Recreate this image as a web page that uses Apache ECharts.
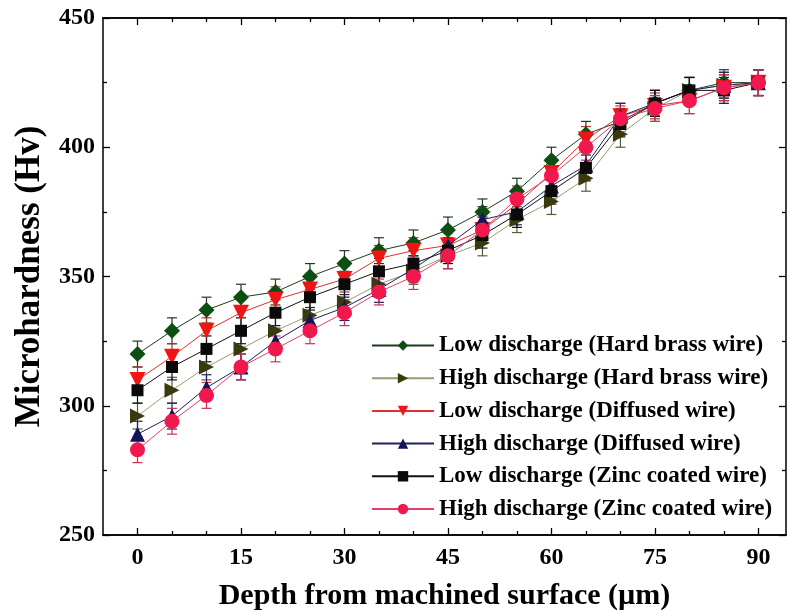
<!DOCTYPE html>
<html>
<head>
<meta charset="utf-8">
<script src="https://cdn.jsdelivr.net/npm/echarts@6/dist/echarts.min.js"></script>
<style>
  html, body { margin: 0; padding: 0; background: #fff; }
  #chart { width: 787px; height: 612px; }
</style>
</head>
<body>
<div id="chart"></div>
<script>
// Depth below the machined surface (µm)
const depths = [0, 5, 10, 15, 20, 25, 30, 35, 40, 45, 50, 55, 60, 65, 70, 75, 80, 85, 90];
const majorDepthTicks = [0, 15, 30, 45, 60, 75, 90];
const minorDepthTicks = [5, 10, 20, 25, 35, 40, 50, 55, 65, 70, 80, 85];

// Microhardness (Hv) per condition
const lowHardBrass  = [320, 329, 337, 342, 344, 350, 355, 360, 363, 368, 375, 383, 395, 405, 410, 417, 422, 425, 425];
const highHardBrass = [296, 306, 315, 322, 329, 335, 340, 347, 352, 358, 363, 372, 379, 388, 405, 415, 422, 424, 425];
const lowDiffused   = [310, 319, 329, 336, 341, 345, 349, 357, 360, 362, 368, 378, 390, 403, 412, 416, 418, 423, 425];
const highDiffused  = [289, 296, 307, 315, 325, 333, 338, 345, 353, 362, 372, 375, 385, 393, 412, 417, 422, 424, 425];
const lowZinc       = [306, 315, 322, 329, 336, 342, 347, 352, 355, 360, 366, 374, 383, 392, 409, 417, 422, 422, 425];
const highZinc      = [283, 294, 304, 315, 322, 329, 336, 344, 350, 358, 368, 380, 389, 400, 411, 415, 418, 423, 425];

// Standard deviation of each measurement (Hv)
const errLowHardBrass  = [5, 5, 5, 5, 5, 5, 5, 5, 5, 5, 5, 5, 5, 5, 5, 5, 5, 5, 5];
const errHighHardBrass = [5, 5, 5, 5, 5, 5, 5, 5, 5, 5, 5, 5, 5, 5, 5, 5, 5, 5, 5];
const errLowDiffused   = [5, 5, 5, 5, 5, 5, 5, 5, 5, 5, 5, 5, 5, 5, 5, 5, 5, 5, 5];
const errHighDiffused  = [5, 5, 5, 5, 5, 5, 5, 5, 5, 5, 5, 5, 5, 5, 5, 5, 5, 5, 5];
const errLowZinc       = [5, 5, 5, 5, 5, 5, 5, 5, 5, 5, 5, 5, 5, 5, 5, 5, 5, 5, 5];
const errHighZinc      = [5, 5, 5, 5, 5, 5, 5, 5, 5, 5, 5, 5, 5, 5, 5, 5, 5, 5, 5];

const seriesNames = [
  'Low discharge (Hard brass wire)',
  'High discharge (Hard brass wire)',
  'Low discharge (Diffused wire)',
  'High discharge (Diffused wire)',
  'Low discharge (Zinc coated wire)',
  'High discharge (Zinc coated wire)'
];

const FONT = "'Liberation Serif', 'Times New Roman', serif";

const styles = [
  { values: lowHardBrass,  errors: errLowHardBrass,  marker: '#0d4f12', line: '#1f3a1f', err: '#1f3a1f', symbol: 'diamond', size: 16 },
  { values: highHardBrass, errors: errHighHardBrass, marker: '#3a3a0e', line: '#9a9a78', err: '#5a5a3a', symbol: 'path://M0,0 L10,5 L0,10 Z', size: 15 },
  { values: lowDiffused,   errors: errLowDiffused,   marker: '#f01414', line: '#e03030', err: '#b03030', symbol: 'path://M0,0 L10,0 L5,9 Z', size: 16 },
  { values: highDiffused,  errors: errHighDiffused,  marker: '#14145a', line: '#20205a', err: '#20205a', symbol: 'triangle', size: 15 },
  { values: lowZinc,       errors: errLowZinc,       marker: '#0a0a0a', line: '#111111', err: '#111111', symbol: 'rect', size: 12 },
  { values: highZinc,      errors: errHighZinc,      marker: '#f0184c', line: '#e0406a', err: '#c8305a', symbol: 'circle', size: 15 }
];

const chart = echarts.init(document.getElementById('chart'), null, { renderer: 'canvas' });

function errorBars(name, s) {
  return {
    type: 'custom',
    name: name + ' error',
    z: 1,
    silent: true,
    data: depths.map((d, i) => [d, s.values[i] - s.errors[i], s.values[i] + s.errors[i]]),
    encode: { x: 0, y: [1, 2] },
    renderItem: function (params, api) {
      const x = api.value(0);
      const lo = api.coord([x, api.value(1)]);
      const hi = api.coord([x, api.value(2)]);
      const w = 5;
      const st = { stroke: s.err, lineWidth: 1.2 };
      return {
        type: 'group',
        children: [
          { type: 'line', shape: { x1: hi[0], y1: hi[1], x2: lo[0], y2: lo[1] }, style: st },
          { type: 'line', shape: { x1: hi[0] - w, y1: hi[1], x2: hi[0] + w, y2: hi[1] }, style: st },
          { type: 'line', shape: { x1: lo[0] - w, y1: lo[1], x2: lo[0] + w, y2: lo[1] }, style: st }
        ]
      };
    }
  };
}

const series = [];
seriesNames.forEach((name, k) => {
  series.push(errorBars(name, styles[k]));
});
seriesNames.forEach((name, k) => {
  const s = styles[k];
  series.push({
    type: 'line',
    name: name,
    z: 2 + k,
    data: depths.map((d, i) => [d, s.values[i]]),
    symbol: s.symbol,
    symbolSize: s.size,
    showAllSymbol: true,
    lineStyle: { color: s.line, width: 1 },
    itemStyle: { color: s.marker, borderWidth: 0 },
    emphasis: { disabled: true },
    animation: false
  });
});

const axisLine = { show: true, onZero: false, lineStyle: { color: '#000', width: 1.5 } };
const tickStyle = { color: '#000', width: 1.3 };
const xBase = { type: 'value', min: -5, max: 94, gridIndex: 0, splitLine: { show: false }, axisLine: axisLine };

chart.setOption({
  animation: false,
  backgroundColor: '#fff',
  grid: { left: 103, right: 1, top: 18, bottom: 77, containLabel: false, outerBoundsMode: 'none' },
  legend: {
    data: seriesNames,
    orient: 'vertical',
    left: 366,
    top: 329,
    itemWidth: 62,
    itemHeight: 13,
    itemGap: 9.7,
    textStyle: { fontFamily: FONT, fontWeight: 'bold', fontSize: 23, lineHeight: 23, color: '#000' },
    selectedMode: false
  },
  xAxis: [
    Object.assign({}, xBase, {
      position: 'bottom',
      name: 'Depth from machined surface (µm)',
      nameLocation: 'middle',
      nameGap: 46,
      nameTextStyle: { fontFamily: FONT, fontWeight: 'bold', fontSize: 30, color: '#000' },
      axisTick: { show: true, inside: true, length: 7, lineStyle: tickStyle, customValues: majorDepthTicks },
      axisLabel: { show: true, margin: 11, fontFamily: FONT, fontWeight: 'bold', fontSize: 24, color: '#000', customValues: majorDepthTicks }
    }),
    Object.assign({}, xBase, {
      position: 'bottom',
      axisTick: { show: true, inside: true, length: 4, lineStyle: tickStyle, customValues: minorDepthTicks },
      axisLabel: { show: false }
    }),
    Object.assign({}, xBase, {
      position: 'top',
      axisTick: { show: true, inside: true, length: 7, lineStyle: tickStyle, customValues: majorDepthTicks },
      axisLabel: { show: false }
    }),
    Object.assign({}, xBase, {
      position: 'top',
      axisTick: { show: true, inside: true, length: 4, lineStyle: tickStyle, customValues: minorDepthTicks },
      axisLabel: { show: false }
    })
  ],
  yAxis: [
    {
      type: 'value', min: 250, max: 450, interval: 50, position: 'left',
      name: 'Microhardness (Hv)',
      nameLocation: 'middle',
      nameGap: 56,
      nameTextStyle: { fontFamily: FONT, fontWeight: 'bold', fontSize: 35, color: '#000' },
      axisLine: axisLine,
      splitLine: { show: false },
      axisTick: { show: true, inside: true, length: 7, lineStyle: tickStyle },
      minorTick: { show: true, splitNumber: 2, length: 4, lineStyle: tickStyle },
      axisLabel: { margin: 8, fontFamily: FONT, fontWeight: 'bold', fontSize: 24, color: '#000' }
    },
    {
      type: 'value', min: 250, max: 450, interval: 50, position: 'right',
      axisLine: axisLine,
      splitLine: { show: false },
      axisTick: { show: true, inside: true, length: 7, lineStyle: tickStyle },
      minorTick: { show: true, splitNumber: 2, length: 4, lineStyle: tickStyle },
      axisLabel: { show: false }
    }
  ],
  series: series
});
</script>
</body>
</html>
